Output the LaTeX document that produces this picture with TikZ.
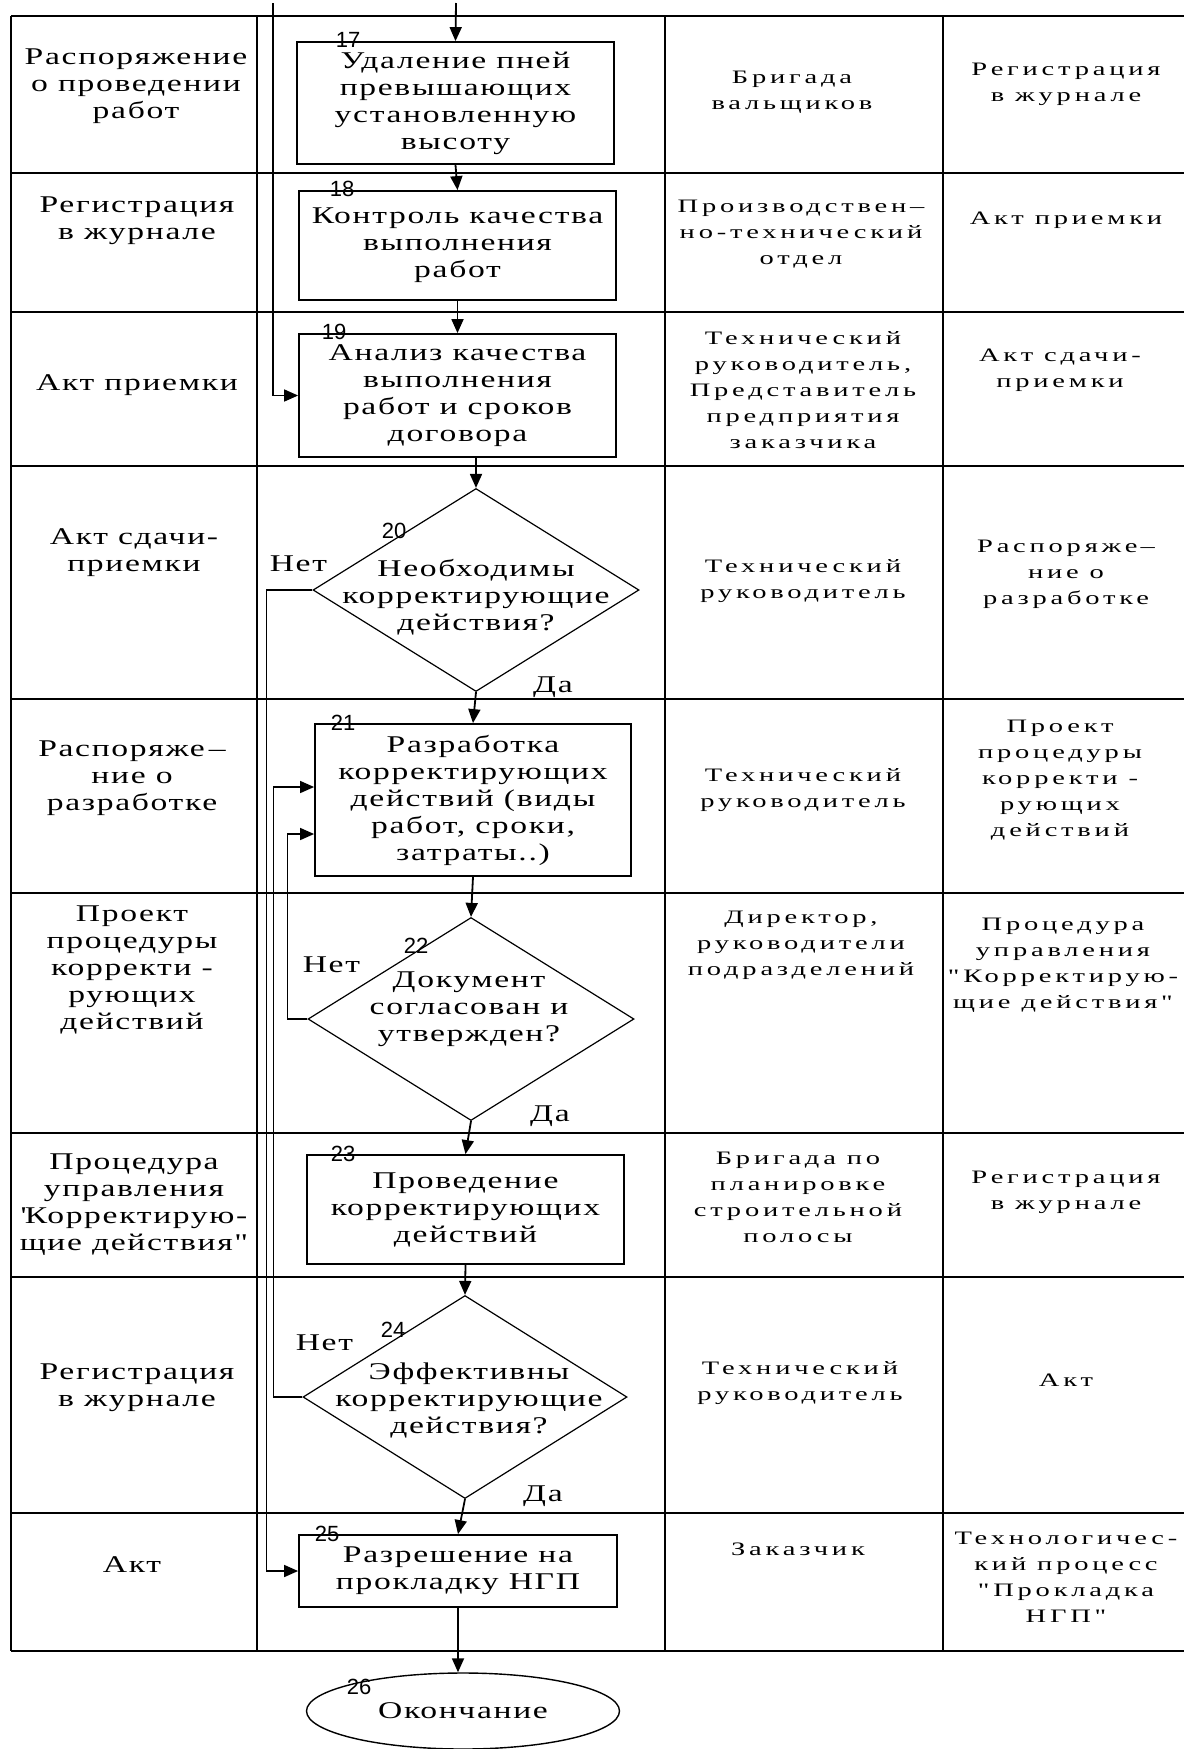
\documentclass[tikz,border=0pt]{standalone}
\usepackage{fontspec}
\setmainfont{Liberation Serif}
\newfontfamily\widefont[FakeStretch=1.4,LetterSpace=7]{Liberation Serif}
\newfontfamily\spacedfont[FakeStretch=1.5,LetterSpace=20]{Liberation Serif}
\newfontfamily\numfont{Liberation Sans}
\usetikzlibrary{shapes.geometric, arrows.meta, positioning}

\newcommand{\boxfont}{\widefont\fontsize{24}{27}\selectfont}
\newcommand{\colfont}{\spacedfont\fontsize{19}{26}\selectfont}

\begin{document}
\begin{tikzpicture}[
  x=1pt, y=-1pt,
  grid/.style={line width=1.8pt},
  box/.style={rectangle, draw, line width=1.8pt, inner sep=0pt,
              minimum width=317pt, font=\boxfont, align=center},
  dec/.style={diamond, draw, line width=1.2pt, inner sep=0pt,
              minimum width=326pt, minimum height=203pt},
  term/.style={ellipse, draw, line width=1.4pt, inner sep=0pt,
               minimum width=313pt, minimum height=76pt, font=\boxfont},
  doc/.style={font=\boxfont, align=center},
  who/.style={font=\colfont, align=center},
  num/.style={font=\numfont\fontsize{22}{22}\selectfont},
  lbl/.style={font=\boxfont, align=center},
  arr/.style={-{Triangle[length=14pt,width=12pt]}, line width=1.8pt},
  fb/.style={-{Triangle[length=14pt,width=12pt]}, line width=1.6pt}
]
  \useasboundingbox (0,0) rectangle (1184,1749);

  % table
  \draw[grid] (11,16) -- (1184,16)   (11,173) -- (1184,173)
              (11,312) -- (1184,312) (11,466) -- (1184,466)
              (11,699) -- (1184,699) (11,893) -- (1184,893)
              (11,1133) -- (1184,1133) (11,1277) -- (1184,1277)
              (11,1513) -- (1184,1513) (11,1651) -- (1184,1651);
  \draw[grid] (11,16) -- (11,1651)   (257,16) -- (257,1651)
              (665,16) -- (665,1651) (943,16) -- (943,1651);

  % input documents
  \node[doc] (in17) at (136,86)   {Распоряжение\\о проведении\\работ};
  \node[doc] (in18) at (137,221)  {Регистрация\\в журнале};
  \node[doc] (in19) at (137,385)  {Акт приемки};
  \node[doc] (in20) at (134,553)  {Акт сдачи-\\приемки};
  \node[doc] (in21) at (132,778)  {Распоряже\,–\\ние о\\разработке};
  \node[doc] (in22) at (132,970)  {Проект\\процедуры\\корректи -\\рующих\\действий};
  \node[doc] (in23) at (134,1205) {Процедура\\управления\\\textquotesingle Корректирую-\\щие действия"};
  \node[doc] (in24) at (137,1388) {Регистрация\\в журнале};
  \node[doc] (in25) at (132,1565) {Акт};

  % responsible
  \node[who] (who17) at (792,92)   {Бригада\\вальщиков};
  \node[who] (who18) at (801,234)  {Производствен–\\но-технический\\отдел};
  \node[who] (who19) at (803,390)  {Технический\\руководитель,\\Представитель\\предприятия\\заказчика};
  \node[who] (who20) at (803,581)  {Технический\\руководитель};
  \node[who] (who21) at (803,790)  {Технический\\руководитель};
  \node[who] (who22) at (801,945)  {Директор,\\руководители\\подразделений};
  \node[who] (who23) at (798,1197) {Бригада по\\планировке\\строительной\\полосы};
  \node[who] (who24) at (800,1383) {Технический\\руководитель};
  \node[who] (who25) at (798,1549) {Заказчик};

  % output documents
  \node[who] (out17) at (1066,84)   {Регистрация\\в журнале};
  \node[who] (out18) at (1066,220)  {Акт приемки};
  \node[who] (out19) at (1060,370)  {Акт сдачи-\\приемки};
  \node[who] (out20) at (1066,574)  {Распоряже\,–\\ние о\\разработке};
  \node[who] (out21) at (1060,780)  {Проект\\процедуры\\корректи -\\рующих\\действий};
  \node[who] (out22) at (1063,965)  {Процедура\\управления\\"Корректирую-\\щие действия"};
  \node[who] (out23) at (1066,1192) {Регистрация\\в журнале};
  \node[who] (out24) at (1066,1380) {Акт};
  \node[who] (out25) at (1066,1577) {Технологичес-\\кий процесс\\"Прокладка\\НГП"};

  % flow
  \coordinate (top)   at (456,3);
  \coordinate (topfb) at (273,3);
  \node[box, minimum height=122pt] (b17) at (455.5,103) {Удаление пней\\превышающих\\установленную\\высоту};
  \node[box, minimum height=109pt] (b18) at (457.5,245.5) {Контроль качества\\выполнения\\работ};
  \node[box, minimum height=123pt] (b19) at (457.5,395.5) {Анализ качества\\выполнения\\работ и сроков\\договора};
  \node[dec] (d20) at (476,590) {};
  \node[lbl] (q20) at (476,597) {Необходимы\\корректирующие\\действия?};
  \node[box, minimum width=316pt, minimum height=152pt] (b21) at (473,800)
    {Разработка\\корректирующих\\действий (виды\\работ, сроки,\\затраты..)};
  \node[dec] (d22) at (471,1019) {};
  \node[lbl] (q22) at (469,1009) {Документ\\согласован и\\утвержден?};
  \node[box, minimum height=109pt] (b23) at (465.5,1209.5) {Проведение\\корректирующих\\действий};
  \node[dec, minimum width=324pt] (d24) at (465,1397) {};
  \node[lbl] (q24) at (469,1400) {Эффективны\\корректирующие\\действия?};
  \node[box, minimum width=318pt, minimum height=72pt] (b25) at (458,1571) {Разрешение на\\прокладку НГП};
  \node[term] (e26) at (463,1711) {Окончание};

  % step numbers
  \node[num] (n17) at ([xshift=52pt,yshift=1pt]b17.north west) {17};
  \node[num] (n18) at ([xshift=44pt,yshift=1pt]b18.north west) {18};
  \node[num] (n19) at ([xshift=36pt,yshift=1pt]b19.north west) {19};
  \node[num] (n20) at ([xshift=-82pt,yshift=59pt]d20.center) {20};
  \node[num] (n21) at ([xshift=29pt,yshift=0pt]b21.north west) {21};
  \node[num] (n22) at ([xshift=-55pt,yshift=73pt]d22.center) {22};
  \node[num] (n23) at ([xshift=37pt,yshift=0pt]b23.north west) {23};
  \node[num] (n24) at ([xshift=-72pt,yshift=67pt]d24.center) {24};
  \node[num] (n25) at ([xshift=29pt,yshift=0pt]b25.north west) {25};
  \node[num] (n26) at ([xshift=-104pt,yshift=24pt]e26.center) {26};

  % answers
  \node[lbl] (no20)  at ([xshift=-14pt,yshift=26pt]d20.west) {Нет};
  \node[lbl] (yes20) at ([xshift=77pt,yshift=5pt]d20.south) {Да};
  \node[lbl] (no22)  at ([xshift=24pt,yshift=54pt]d22.west) {Нет};
  \node[lbl] (yes22) at ([xshift=79pt,yshift=5pt]d22.south) {Да};
  \node[lbl] (no24)  at ([xshift=22pt,yshift=54pt]d24.west) {Нет};
  \node[lbl] (yes24) at ([xshift=78pt,yshift=3pt]d24.south) {Да};

  \draw[arr] (top) -- (b17.north);
  \draw[arr] (b17.south) -- (b18.north);
  \draw[arr] (b18.south) -- (b19.north);
  \draw[arr] (b19.south -| d20.north) -- (d20.north);
  \draw[arr] (d20.south) -- (b21.north);
  \draw[arr] (b21.south) -- (d22.north);
  \draw[arr] (d22.south) -- (b23.north);
  \draw[arr] (b23.south) -- (d24.north);
  \draw[arr] (d24.south) -- (b25.north);
  \draw[arr] (b25.south) -- (b25.south |- e26.north);

  \draw[fb] (topfb) |- (b19.west);
  \draw[fb] (d20.west) -- ++(-46,0) |- (b25.west);
  \draw[fb] (d22.west) -- ++(-20,0) |- ([yshift=-34pt]b21.west);
  \draw[fb] (d24.west) -- ++(-29,0) |- ([yshift=13pt]b21.west);
\end{tikzpicture}
\end{document}
